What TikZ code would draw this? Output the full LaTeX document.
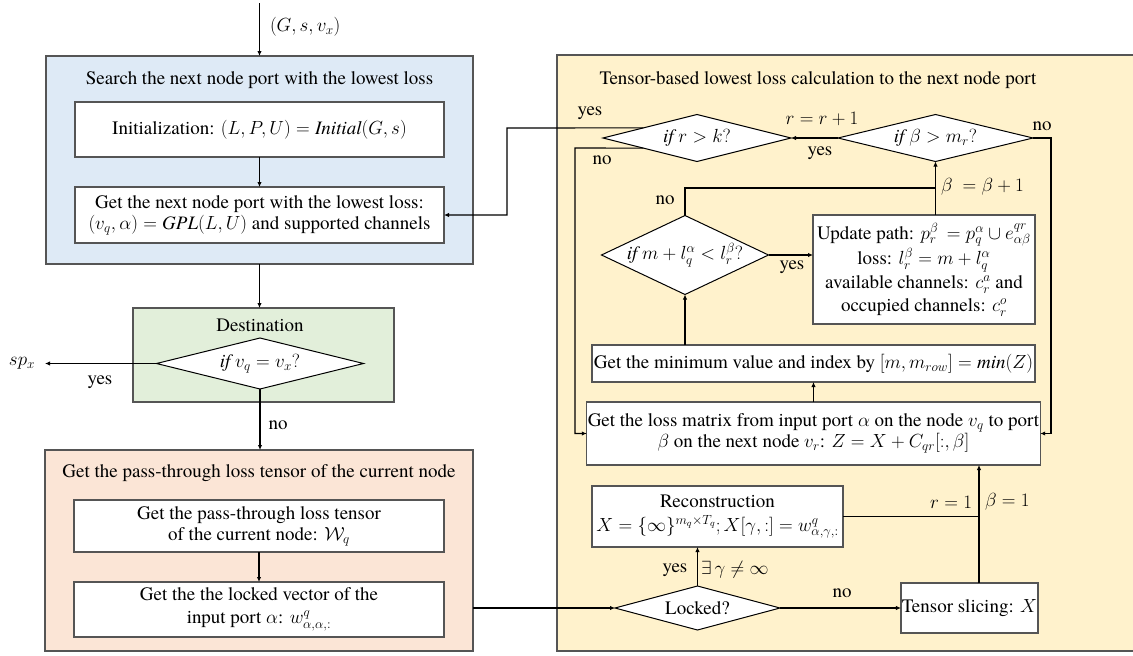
\RequirePackage{fix-cm}
\documentclass[tikz,border=0pt]{standalone}
\usepackage{fontspec}
\setmainfont{TeX Gyre Termes}
\usetikzlibrary{shapes.geometric,arrows.meta,calc}
\definecolor{gblue}{RGB}{222,234,246}
\definecolor{ggreen}{RGB}{226,239,218}
\definecolor{gorange}{RGB}{251,229,214}
\definecolor{gyellow}{RGB}{255,242,204}
\definecolor{edge}{RGB}{85,85,85}
\tikzset{
  grp/.style={draw=edge, line width=1.2pt, inner sep=0pt, outer sep=0pt},
  box/.style={draw=edge, fill=white, line width=1.2pt, align=center, inner sep=1pt, outer sep=0pt},
  dia/.style={diamond, draw=black, fill=white, line width=1pt, inner sep=0pt, outer sep=0pt},
  lbl/.style={inner sep=0pt, outer sep=0pt, align=center},
  ttl/.style={inner sep=0pt, outer sep=0pt},
  con/.style={draw=black, line width=1.1pt},
  arr/.style={con, -{Latex[length=5pt,width=4.5pt]}},
}
\begin{document}
\begin{tikzpicture}[x=1pt,y=-1pt,font=\fontsize{19}{22}\selectfont]
\useasboundingbox (0,0) rectangle (1133,656);
\clip (0,0) rectangle (1133,656);
\fill[white] (0,0) rectangle (1133,656);
% group frames
\node[grp, fill=gblue, minimum width=427, minimum height=208] (G1) at (259.5,160) {};
\node[grp, fill=ggreen, minimum width=261, minimum height=94] (G2) at (263.5,355) {};
\node[grp, fill=gorange, minimum width=428, minimum height=201] (G3) at (259,550.5) {};
\node[grp, fill=gyellow, minimum width=590, minimum height=596] (G4) at (852,353) {};
% titles
\node[ttl] (T1) at (259.5,80) {Search the next node port with the lowest loss};
\node[ttl] (T2) at (260,325) {Destination};
\node[ttl] (T3) at (259,473) {Get the pass-through loss tensor of the current node};
\node[ttl] (T4) at (818,80) {Tensor-based lowest loss calculation to the next node port};
% left column
\node[box, minimum width=369, minimum height=55] (init) at (259.5,129.5) {Initialization: $(L,P,U)=\mathit{Initial}(G,s)$};
\node[box, minimum width=369, minimum height=56] (get) at (259.5,215) {Get the next node port with the lowest loss:\\[-1pt] $\big(v_q,\alpha\big)=\mathit{GPL}(L,U)$ and supported channels};
\node[dia, minimum width=207, minimum height=51, label={center:$\mathit{if}\ v_q=v_x?$}] (dest) at (260,363.5) {};
\node[box, minimum width=370, minimum height=52] (b1) at (259,526) {Get the pass-through loss tensor\\[-1pt] of the current node: $\mathcal{W}_q$};
\node[box, minimum width=370, minimum height=55] (b2) at (259,609.5) {Get the the locked vector of the\\[1pt] input port $\alpha$: $w^q_{\alpha,\alpha,:}$};
\coordinate (in) at (259.5,3);
\node[lbl] (spx) at (22,363.5) {$sp_x$};
\coordinate (spend) at (45,363.5);
% right column
\node[dia, minimum width=188, minimum height=47, label={center:$\mathit{if}\ r>k?$}] (rk) at (697,138) {};
\node[dia, minimum width=195, minimum height=47, label={center:$\mathit{if}\ \beta>m_r?$}] (bm) at (935.5,138) {};
\node[dia, minimum width=167, minimum height=79, label={center:$\mathit{if}\ m+l_q^\alpha<l_r^\beta?$}] (ml) at (685,255) {};
\node[box, minimum width=222, minimum height=109] (upd) at (924,269.5) {Update path: $p_r^\beta\,=p_q^\alpha\cup e_{\alpha\beta}^{qr}$\\[1pt] loss: $l_r^\beta=m+l_q^\alpha$\\[2pt] available channels: $c_r^a$ and\\[1pt] occupied channels: $c_r^o$};
\node[box, minimum width=443, minimum height=37] (mn) at (813.5,363.5) {Get the minimum value and index by $[m,m_{row}]=\mathit{min}(Z)$};
\node[box, minimum width=443, minimum height=63] (loss) at (813.5,433.5) {Get the loss matrix from input port $\alpha$ on the node $v_q$ to port\\[-1pt] $\beta$ on the next node $v_r$: $Z=X+C_{qr}[:,\beta]$};
\node[box, minimum width=251, minimum height=61] (rec) at (717.5,516.5) {Reconstruction\\[2pt] $X=\{\infty\}^{m_q\times T_q};X[\gamma,:]=w^q_{\alpha,\gamma,:}$};
\node[box, minimum width=131, minimum height=50] (sl) at (969.5,608) {Tensor slicing: $X$};
\node[dia, minimum width=165, minimum height=44, label={center:Locked?}] (lk) at (697.5,608) {};
\coordinate (colx) at (979,0);
\coordinate (bjoin) at (935.5,188);
\coordinate (rkyes) at ($(rk.west)!0.43!(rk.north)$);
\coordinate (rkno) at ($(rk.west)!0.43!(rk.south)$);
% connectors left
\draw[arr] (in) -- (G1.north);
\draw[arr] (init) -- (get);
\draw[arr] (G1.south) -- (G1.south |- G2.north);
\draw[arr] (dest.west) -- (spend);
\draw[arr] (dest.south) -- (dest.south |- G3.north);
\draw[arr] (b1) -- (b2);
\draw[arr] (lk.west -| G3.east) -- (lk.west);
% connectors right
\draw[arr] (lk.east) -- (sl.west);
\draw[arr] (lk.north) -- (lk.north |- rec.south);
\draw[arr] (sl.north -| colx) -- (loss.south -| colx);
\draw[con] (rec.east) -- (rec.east -| colx);
\draw[arr] (loss.north) -- (mn.south);
\draw[arr] (mn.north -| ml.south) -- (ml.south);
\draw[arr] (ml.east) -- (ml.east -| upd.west);
\draw[arr] (upd.north -| bm.south) -- (bm.south);
\draw[con] (ml.north) |- (bjoin);
\draw[arr] (bm.west) -- (rk.east);
\draw[arr] (bm.east) -- ++(18,0) |- (loss.east);
\draw[arr] (rkno) -- (575,148) |- (loss.west);
\draw[arr] (rkyes) -- (507,128) |- (get.east);
% labels
\node[lbl, anchor=west] at (270,27) {$(G,s,v_x)$};
\node[lbl] at (100,382) {yes};
\node[lbl] at (278,425) {no};
\node[lbl] at (590,113) {yes};
\node[lbl] at (602,160) {no};
\node[lbl] at (822,119) {$r=r+1$};
\node[lbl] at (820,153) {yes};
\node[lbl] at (1042,126) {no};
\node[lbl, anchor=west] at (941,187) {$\beta\ =\beta+1$};
\node[lbl] at (665,200) {no};
\node[lbl] at (792,267) {yes};
\node[lbl] at (675,570) {yes};
\node[lbl, anchor=west] at (701,570) {$\exists\,\gamma\neq\infty$};
\node[lbl] at (842,593) {no};
\node[lbl, anchor=east] at (972,502) {$r=1$};
\node[lbl, anchor=west] at (985,502) {$\beta=1$};
\end{tikzpicture}
\end{document}
